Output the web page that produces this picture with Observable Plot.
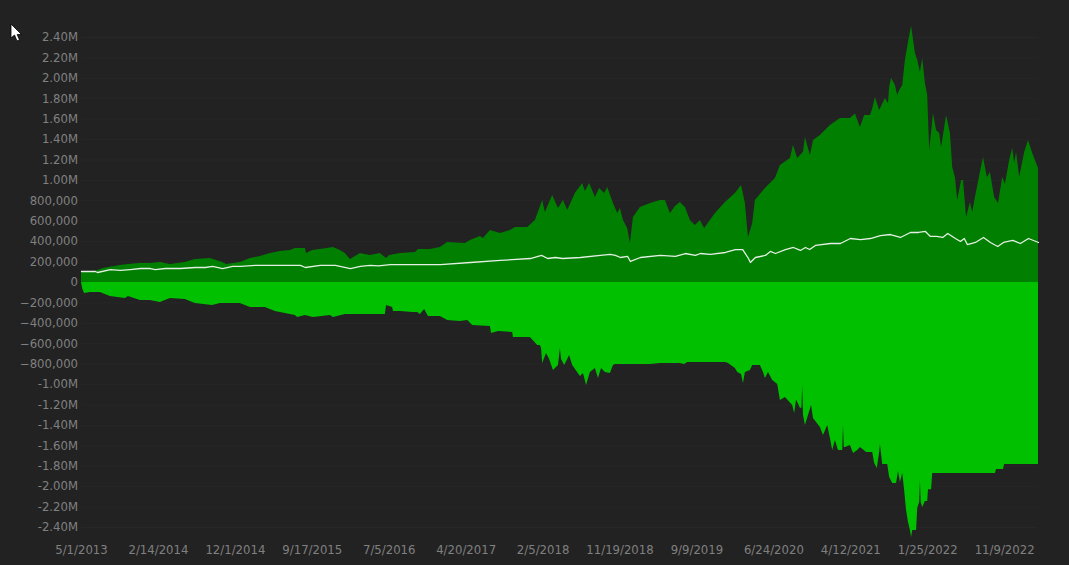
<!DOCTYPE html>
<html>
<head>
<meta charset="utf-8">
<script src="https://cdn.jsdelivr.net/npm/d3@7"></script>
<script src="https://cdn.jsdelivr.net/npm/@observablehq/plot@0.6"></script>
<style>
html,body{margin:0;padding:0;background:#222222;overflow:hidden;}
#chart{position:relative;width:1069px;height:565px;}
#cursor{position:absolute;left:10px;top:23px;}
svg text{font-family:"DejaVu Sans",Verdana,sans-serif;}
</style>
</head>
<body>
<div id="chart"></div>
<script>
const xTickSessions = [0,200,400,600,800,1000,1200,1400,1600,1800,2000,2200,2400];
const xTickLabels = ["5/1/2013","2/14/2014","12/1/2014","9/17/2015","7/5/2016","4/20/2017","2/5/2018","11/19/2018","9/9/2019","6/24/2020","4/12/2021","1/25/2022","11/9/2022"];
const yTicks = [-2400000,-2200000,-2000000,-1800000,-1600000,-1400000,-1200000,-1000000,-800000,-600000,-400000,-200000,0,200000,400000,600000,800000,1000000,1200000,1400000,1600000,1800000,2000000,2200000,2400000];
const lastSession = 2488;

// values in thousands
const upperSessions = [0,10,36,42,57,75,101,127,153,179,205,231,270,296,335,367,377,413,439,465,491,517,543,556,582,585,601,621,655,673,686,699,725,751,777,793,801,829,868,876,907,933,952,998,1011,1037,1045,1063,1089,1115,1128,1160,1180,1199,1206,1225,1240,1253,1264,1284,1303,1310,1321,1336,1347,1360,1368,1383,1394,1401,1409,1420,1427,1435,1453,1479,1505,1518,1531,1544,1557,1570,1583,1596,1609,1620,1648,1674,1700,1716,1726,1734,1745,1752,1778,1804,1817,1843,1851,1862,1877,1882,1895,1903,1921,1947,1973,1999,2012,2025,2036,2051,2057,2064,2075,2090,2098,2101,2106,2116,2122,2127,2135,2142,2150,2158,2168,2174,2181,2187,2194,2200,2205,2215,2223,2231,2236,2249,2259,2265,2272,2278,2288,2293,2301,2311,2317,2324,2337,2345,2355,2363,2374,2384,2395,2402,2413,2421,2426,2431,2439,2452,2462,2473,2483,2488];
const upperValues = [105,105,110,118,137,150,167,178,186,186,196,176,196,225,235,196,176,196,235,255,284,304,314,333,333,284,314,323,343,314,284,225,284,265,284,235,265,284,294,323,323,343,392,382,412,451,431,510,480,510,539,539,608,804,686,853,725,804,706,872,970,892,970,833,921,872,931,774,676,725,608,529,382,637,735,774,804,804,676,745,784,735,608,559,608,529,676,784,872,951,774,441,578,804,921,1019,1147,1215,1343,1215,1275,1421,1245,1392,1440,1539,1607,1607,1650,1519,1637,1637,1700,1813,1686,1803,1750,1911,2000,1930,1832,1882,1930,2176,2352,2509,2244,2176,2058,2195,1950,1832,1294,1656,1490,1460,1323,1637,1460,1127,1029,804,1000,1000,637,784,686,833,1080,1225,1029,1078,833,774,1029,960,1196,1313,1166,1274,1029,1274,1392,1264,1166,1117];

const lowerSessions = [0,3,8,23,49,75,114,122,153,179,205,231,270,296,341,361,413,439,478,504,556,562,582,603,647,655,686,790,793,809,811,829,861,874,881,892,902,933,952,985,1004,1017,1063,1066,1084,1121,1123,1167,1186,1193,1196,1199,1209,1217,1227,1240,1245,1248,1256,1264,1269,1277,1297,1305,1313,1323,1336,1344,1352,1362,1375,1383,1388,1479,1505,1557,1568,1576,1675,1682,1700,1706,1716,1721,1726,1739,1745,1765,1773,1778,1786,1797,1810,1817,1830,1849,1854,1859,1869,1873,1875,1877,1882,1890,1898,1903,1921,1929,1940,1947,1953,1960,1968,1976,1979,1981,1983,1986,1999,2007,2018,2025,2041,2057,2062,2069,2075,2077,2083,2096,2101,2109,2119,2124,2129,2135,2140,2145,2150,2155,2158,2161,2171,2174,2179,2181,2183,2187,2194,2200,2202,2210,2213,2376,2379,2397,2400,2488];
const lowerValues = [0,-60,-108,-98,-98,-137,-157,-137,-176,-176,-196,-157,-167,-206,-225,-206,-206,-245,-245,-284,-323,-343,-323,-343,-323,-343,-314,-314,-225,-245,-284,-284,-294,-294,-314,-265,-333,-333,-372,-382,-372,-421,-431,-500,-480,-490,-539,-539,-617,-617,-647,-794,-696,-755,-862,-813,-647,-755,-813,-755,-715,-813,-921,-892,-1009,-882,-843,-941,-843,-882,-892,-813,-804,-804,-794,-794,-804,-784,-784,-794,-843,-882,-900,-990,-882,-862,-813,-813,-882,-941,-882,-960,-1000,-1156,-1127,-1205,-1284,-1150,-1233,-1233,-1009,-1300,-1401,-1303,-1205,-1333,-1421,-1499,-1401,-1528,-1646,-1548,-1646,-1646,-1646,-1401,-1617,-1617,-1597,-1676,-1646,-1617,-1666,-1666,-1774,-1823,-1666,-1587,-1784,-1784,-1911,-1970,-1970,-1852,-1960,-1872,-2038,-2234,-2352,-2430,-2499,-2430,-2430,-2215,-2156,-1940,-2156,-2205,-2146,-2146,-2029,-2029,-1872,-1872,-1833,-1833,-1784,-1784];

const midSessions = [0,36,42,75,101,127,153,179,192,218,257,296,322,341,367,393,413,452,569,582,621,660,699,725,751,772,803,881,933,1011,1089,1167,1196,1212,1232,1251,1297,1349,1375,1388,1401,1420,1427,1453,1505,1544,1570,1596,1609,1635,1674,1700,1719,1734,1739,1752,1778,1791,1804,1830,1851,1869,1882,1893,1908,1947,1973,1999,2025,2051,2077,2103,2129,2155,2176,2194,2207,2223,2239,2252,2272,2285,2295,2303,2324,2345,2363,2382,2397,2421,2441,2462,2488];
const midValues = [108,108,98,127,118,127,137,137,127,137,137,147,147,157,137,157,157,167,167,147,167,167,137,157,167,162,176,176,176,196,216,235,265,235,245,235,245,265,275,265,245,255,206,245,265,255,284,265,284,275,294,323,323,235,196,245,265,304,284,323,343,314,343,323,363,382,382,431,421,431,460,470,441,490,490,500,451,451,441,480,431,402,431,372,392,441,392,353,392,412,382,431,392];

const pairs = (xs, ys) => xs.map((session, i) => ({session, value: ys[i] * 1000}));
const upper = pairs(upperSessions, upperValues);
const lower = pairs(lowerSessions, lowerValues);
const mid = pairs(midSessions, midValues);

const labelFor = new Map(xTickSessions.map((s, i) => [s, xTickLabels[i]]));
const yFormat = v => Math.abs(v) >= 1000000
  ? (v < 0 ? "-" : "") + (Math.abs(v) / 1000000).toFixed(2) + "M"
  : d3.format(",")(v);

const plot = Plot.plot({
  width: 1069,
  height: 565,
  marginLeft: 81,
  marginRight: 31,
  marginTop: 37,
  marginBottom: 38,
  style: {background: "#222222", fontSize: "11.7px", fontFamily: '"DejaVu Sans",Verdana,sans-serif'},
  x: {type: "linear", domain: [0, lastSession], label: null},
  y: {type: "linear", domain: [-2400000, 2400000], label: null},
  marks: [
    Plot.gridY(yTicks, {stroke: "#272727", strokeOpacity: 1, strokeWidth: 1}),
    Plot.areaY(upper, {x: "session", y: "value", fill: "#007f00", curve: "linear"}),
    Plot.areaY(lower, {x: "session", y: "value", fill: "#00c000", curve: "linear"}),
    Plot.lineY(mid, {x: "session", y: "value", stroke: "#e4f0e4", strokeWidth: 1.3, curve: "linear"}),
    Plot.axisY({ticks: yTicks, tickFormat: yFormat, tickSize: 0, tickPadding: 3.5, label: null, fill: "#808080", fontSize: 11.7}),
    Plot.axisX({ticks: xTickSessions, tickFormat: s => labelFor.get(s), tickSize: 0, tickPadding: 18, label: null, fill: "#808080", fontSize: 11.7})
  ]
});
const chart = document.getElementById("chart");
chart.appendChild(plot);
chart.insertAdjacentHTML("beforeend",
  '<svg id="cursor" width="14" height="20" viewBox="0 0 14 20"><path d="M1 1 L1 15 L4.5 12 L7 18 L9.5 17 L7.2 11.5 L11.5 11.5 Z" fill="#fff" stroke="#000" stroke-width="0.8"/></svg>');
</script>
</body>
</html>
